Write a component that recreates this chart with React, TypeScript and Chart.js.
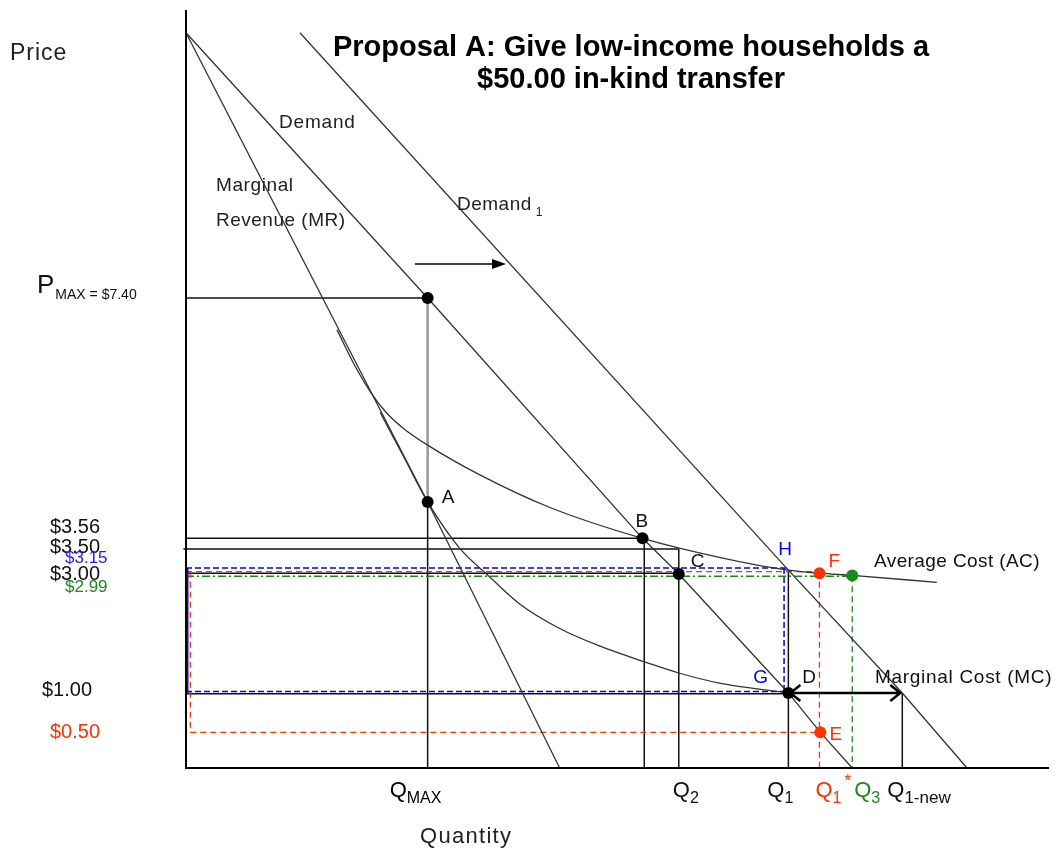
import React, { useEffect, useRef } from "react";
import { Chart, registerables } from "chart.js";

Chart.register(...registerables);

// ---- Diagram data (schematic units: quantity 0..100, price 0..100) ----
const DEMAND_Q = [0, 28.0, 52.9, 57.1, 69.8, 73.5, 77.2];
const DEMAND_P = [97, 62.0, 30.3, 25.6, 9.9, 4.7, 0];
const DEMAND1_Q = [13.2, 69.8, 83.0, 90.5];
const DEMAND1_P = [97, 26.1, 9.9, 0];
const MR_Q = [0, 28.0, 43.3];
const MR_P = [97, 35.1, 0];
const AC_Q = [17.5, 19.6, 21.5, 23.2, 25.2, 28.0, 34.0, 42.1, 52.9, 61.8, 69.8, 73.4, 77.2, 87.0];
const AC_P = [57.8, 53.0, 49.4, 46.9, 44.8, 42.6, 38.7, 34.4, 30.3, 27.8, 26.1, 25.7, 25.4, 24.5];
const MC_Q = [22.5, 25.3, 28.0, 31.7, 35.2, 38.7, 43.3, 47.9, 53.4, 57.2, 61.8, 66.4, 69.8];
const MC_P = [46.9, 40.9, 35.1, 29.0, 25.2, 21.6, 18.4, 16.1, 13.9, 12.5, 11.2, 10.4, 9.9];

// key quantities
const Q_MAX = 28.0;
const Q_B = 52.9;
const Q2 = 57.1;
const Q_BLUE = 69.3;
const Q1 = 69.8;
const Q1_STAR = 73.4;
const Q3 = 77.2;
const Q1_NEW = 83.0;
const Q_LEFT_RED = 0.5;

// key price levels
const P_MAX = 62.0;
const P_A = 35.1;
const P_356 = 30.3;
const P_350 = 28.9;
const P_315 = 26.4;
const P_300 = 25.7;
const P_F = 25.9;
const P_299 = 25.3;
const P_H = 26.1;
const P_100 = 9.9;
const P_050 = 4.7;

// points
const BLACK_DOT_Q = [Q_MAX, Q_MAX, Q_B, Q2, Q1];
const BLACK_DOT_P = [P_MAX, P_A, P_356, 25.6, P_100];
const RED_DOT_Q = [Q1_STAR, 73.5];
const RED_DOT_P = [25.7, P_050];
const GREEN_DOT_Q = [Q3];
const GREEN_DOT_P = [25.4];

// y-axis labels
const Y_LABELS = ["$3.56", "$3.50", "$3.15", "$3.00", "$2.99", "$1.00", "$0.50"];
const Y_LABEL_LEVELS = [P_356, P_350, P_315, P_300, P_299, P_100, P_050];
const Y_LABEL_STYLE = [
  { x: 50, dy: -5, size: 20, color: "#111" },
  { x: 50, dy: 4, size: 20, color: "#111" },
  { x: 65, dy: -5, size: 17, color: "#2020ff" },
  { x: 50, dy: 7, size: 20, color: "#111" },
  { x: 65, dy: 16, size: 17, color: "#1a8a1a" },
  { x: 42, dy: 3, size: 20, color: "#111" },
  { x: 50, dy: 6, size: 20, color: "#ff3300" },
];

const TITLE_LINES = ["Proposal A: Give low-income households a", "$50.00 in-kind transfer"];

const RED = "#ff3300";
const BLUE = "#0000ff";
const GREEN = "#1a8a1a";
const FONT = "'Liberation Sans', Arial, sans-serif";

function pts(xs: number[], ys: number[]) {
  return xs.map((x, i) => ({ x, y: ys[i] }));
}

function seg(x1: number, y1: number, x2: number, y2: number, color: string, width: number, dash: number[] = []) {
  return {
    type: "line" as const,
    data: [{ x: x1, y: y1 }, { x: x2, y: y2 }],
    borderColor: color,
    borderWidth: width,
    borderDash: dash,
    pointRadius: 0,
    showLine: true,
    clip: false as any,
  };
}

function curve(xs: number[], ys: number[], smooth: boolean) {
  return {
    type: "line" as const,
    data: pts(xs, ys),
    borderColor: "#333",
    borderWidth: 1.3,
    pointRadius: 0,
    showLine: true,
    tension: smooth ? 0.4 : 0,
    cubicInterpolationMode: smooth ? ("monotone" as const) : ("default" as const),
    clip: false as any,
  };
}

function dots(xs: number[], ys: number[], color: string) {
  return {
    type: "scatter" as const,
    data: pts(xs, ys),
    backgroundColor: color,
    borderColor: color,
    pointRadius: 6,
    borderWidth: 0,
    showLine: false,
    clip: false as any,
  };
}

function drawText(
  ctx: CanvasRenderingContext2D,
  s: string,
  x: number,
  y: number,
  size: number,
  color: string,
  opts: { bold?: boolean; align?: CanvasTextAlign; spacing?: number } = {}
) {
  ctx.save();
  ctx.font = `${opts.bold ? "bold " : ""}${size}px ${FONT}`;
  ctx.fillStyle = color;
  ctx.textAlign = opts.align || "left";
  ctx.textBaseline = "alphabetic";
  if ("letterSpacing" in ctx) (ctx as any).letterSpacing = `${opts.spacing || 0}px`;
  ctx.fillText(s, x, y);
  const w = ctx.measureText(s).width;
  ctx.restore();
  return w;
}

function subLabel(
  ctx: CanvasRenderingContext2D,
  main: string,
  sub: string,
  x: number,
  baseline: number,
  color: string,
  mainSize = 22,
  subSize = 16,
  subDrop = 6
) {
  const w = drawText(ctx, main, x, baseline, mainSize, color);
  drawText(ctx, sub, x + w, baseline + subDrop, subSize, color);
}

const annotations = {
  id: "annotations",
  afterDraw(chart: any) {
    const ctx: CanvasRenderingContext2D = chart.ctx;
    const xs = chart.scales.x;
    const ys = chart.scales.y;
    const ca = chart.chartArea;
    const X = (v: number) => xs.getPixelForValue(v);
    const Y = (v: number) => ys.getPixelForValue(v);

    // axes
    ctx.save();
    ctx.strokeStyle = "#000";
    ctx.lineWidth = 2;
    ctx.beginPath();
    ctx.moveTo(ca.left, ca.top);
    ctx.lineTo(ca.left, ca.bottom);
    ctx.lineTo(ca.right, ca.bottom);
    ctx.stroke();
    ctx.restore();

    // title
    drawText(ctx, TITLE_LINES[0], 631, 56, 29, "#000", { bold: true, align: "center" });
    drawText(ctx, TITLE_LINES[1], 631, 88, 29, "#000", { bold: true, align: "center" });

    // axis titles
    drawText(ctx, "Price", 10, 60, 23, "#222", { spacing: 1 });
    drawText(ctx, "Quantity", 420, 843, 22, "#222", { spacing: 1.3 });

    // curve labels
    drawText(ctx, "Demand", 279, 128, 19, "#222", { spacing: 0.8 });
    drawText(ctx, "Marginal", 216, 191, 19, "#222", { spacing: 0.6 });
    drawText(ctx, "Revenue (MR)", 216, 226, 19, "#222", { spacing: 0.5 });
    const wd = drawText(ctx, "Demand", 457, 210, 19, "#222", { spacing: 0.5 });
    drawText(ctx, "1", 457 + wd + 4, 216, 12, "#222");

    // shift arrow
    ctx.save();
    ctx.strokeStyle = "#000";
    ctx.fillStyle = "#000";
    ctx.lineWidth = 1.5;
    ctx.beginPath();
    ctx.moveTo(415, 264);
    ctx.lineTo(495, 264);
    ctx.stroke();
    ctx.beginPath();
    ctx.moveTo(506, 264);
    ctx.lineTo(492, 259);
    ctx.lineTo(492, 269);
    ctx.closePath();
    ctx.fill();
    ctx.restore();

    // P_MAX label
    const wp = drawText(ctx, "P", 37, Y(P_MAX) - 5, 26, "#111");
    drawText(ctx, "MAX = $7.40", 37 + wp + 1, Y(P_MAX) + 1, 14, "#111");

    // y labels
    Y_LABELS.forEach((lab, i) => {
      const st = Y_LABEL_STYLE[i];
      drawText(ctx, lab, st.x, Y(Y_LABEL_LEVELS[i]) + st.dy, st.size, st.color);
    });

    // point labels
    drawText(ctx, "A", X(Q_MAX) + 14, Y(P_A) + 1, 19, "#111");
    drawText(ctx, "B", X(Q_B) - 7, Y(P_356) - 11, 19, "#111");
    drawText(ctx, "C", X(Q2) + 12, Y(P_300) - 6, 19, "#111");
    drawText(ctx, "H", X(Q1) - 10, Y(P_H) - 15, 19, BLUE);
    drawText(ctx, "F", X(Q1_STAR) + 9, Y(P_F) - 5, 19, RED);
    drawText(ctx, "Average Cost (AC)", 874, 567, 19, "#111", { spacing: 0.4 });
    drawText(ctx, "G", X(Q1) - 35, Y(P_100) - 10, 19, BLUE);
    drawText(ctx, "D", X(Q1) + 14, Y(P_100) - 10, 19, "#111");
    drawText(ctx, "Marginal Cost (MC)", 875, Y(P_100) - 10, 19, "#111", { spacing: 0.7 });
    drawText(ctx, "E", X(Q1_STAR) + 10, Y(P_050) + 8, 19, RED);

    // quantity labels
    const qb = 797;
    subLabel(ctx, "Q", "MAX", X(Q_MAX) - 38, qb);
    subLabel(ctx, "Q", "2", X(Q2) - 6, qb, "#111");
    subLabel(ctx, "Q", "1", X(Q1) - 21, qb, "#111");
    subLabel(ctx, "Q", "1", X(Q1_STAR) - 4, qb, RED);
    drawText(ctx, "*", X(Q1_STAR) + 25, 786, 17, RED);
    subLabel(ctx, "Q", "3", X(Q3) + 2, qb, GREEN);
    subLabel(ctx, "Q", "1-new", X(Q1_NEW) - 15, qb, "#111", 22, 17, 6);

    // double headed arrow D -> Q1-new
    const ay = Y(P_100);
    const ax1 = X(Q1);
    const ax2 = X(Q1_NEW);
    ctx.save();
    ctx.strokeStyle = "#000";
    ctx.lineWidth = 2.5;
    ctx.beginPath();
    ctx.moveTo(ax1 + 2, ay);
    ctx.lineTo(ax2 - 2, ay);
    ctx.moveTo(ax1 + 12, ay - 8);
    ctx.lineTo(ax1 + 2, ay);
    ctx.lineTo(ax1 + 12, ay + 8);
    ctx.moveTo(ax2 - 12, ay - 8);
    ctx.lineTo(ax2 - 2, ay);
    ctx.lineTo(ax2 - 12, ay + 8);
    ctx.stroke();
    ctx.restore();
  },
};

export default function App() {
  const ref = useRef<HTMLCanvasElement | null>(null);

  useEffect(() => {
    if (!ref.current) return;
    const datasets: any[] = [
      dots(BLACK_DOT_Q, BLACK_DOT_P, "#000"),
      dots(RED_DOT_Q, RED_DOT_P, RED),
      dots(GREEN_DOT_Q, GREEN_DOT_P, GREEN),
      // curves
      curve(DEMAND_Q, DEMAND_P, false),
      curve(DEMAND1_Q, DEMAND1_P, false),
      curve(MR_Q, MR_P, false),
      curve(AC_Q, AC_P, true),
      curve(MC_Q, MC_P, true),
      // blue dashed rectangle
      seg(0, P_315, Q1, P_315, BLUE, 1.5, [6, 3]),
      seg(Q_BLUE, P_315, Q_BLUE, P_100, BLUE, 1.5, [6, 3]),
      seg(0, P_100 + 0.2, Q1, P_100 + 0.2, BLUE, 1.5, [6, 3]),
      seg(0.2, P_315, 0.2, P_100, BLUE, 1.5),
      // red dashed
      seg(0, P_F, Q1_STAR, P_F, RED, 1.3, [6, 4]),
      seg(Q_LEFT_RED, P_F, Q_LEFT_RED, P_050, RED, 1.3, [6, 4]),
      seg(Q_LEFT_RED, P_050, Q1_STAR, P_050, RED, 1.3, [6, 4]),
      seg(Q1_STAR, P_F, Q1_STAR, 0, RED, 1.3, [6, 4]),
      // green dash-dot
      seg(0, P_299, Q3, P_299, GREEN, 1.3, [8, 3, 2, 3]),
      seg(Q3, P_299, Q3, 0, GREEN, 1.3, [6, 4]),
      // black reference lines
      seg(0, P_MAX, Q_MAX, P_MAX, "#111", 1.5),
      seg(Q_MAX, P_MAX, Q_MAX, P_A, "#999", 2.5),
      seg(Q_MAX, P_A, Q_MAX, 0, "#111", 1.5),
      seg(0, P_356, Q_B, P_356, "#111", 1.5),
      seg(Q_B + 0.2, P_356, Q_B + 0.2, 0, "#111", 1.5),
      seg(-0.3, P_350, Q2, P_350, "#111", 1.5),
      seg(Q2, P_350, Q2, 0, "#111", 1.5),
      seg(0, P_300, Q2, P_300, "#111", 1.5),
      seg(0, P_100 - 0.1, Q1, P_100 - 0.1, "#111", 1.5),
      seg(Q1, P_H, Q1, 0, "#111", 1.5),
      seg(Q1_NEW, P_100, Q1_NEW, 0, "#111", 1.5),
    ];

    const chart = new Chart(ref.current, {
      type: "line",
      data: { datasets },
      options: {
        animation: false,
        responsive: false,
        devicePixelRatio: 1,
        parsing: false as any,
        layout: { padding: { left: 186, right: 5, top: 10, bottom: 83 } },
        plugins: { legend: { display: false }, title: { display: false }, tooltip: { enabled: false } },
        events: [],
        scales: {
          x: { type: "linear", min: 0, max: 100, display: false },
          y: { type: "linear", min: 0, max: 100, display: false },
        },
      },
      plugins: [annotations],
    });
    return () => chart.destroy();
  }, []);

  return (
    <div style={{ position: "absolute", left: 0, top: 0, width: 1055, height: 851, background: "#fff" }}>
      <canvas ref={ref} width={1055} height={851} style={{ display: "block" }} />
    </div>
  );
}
